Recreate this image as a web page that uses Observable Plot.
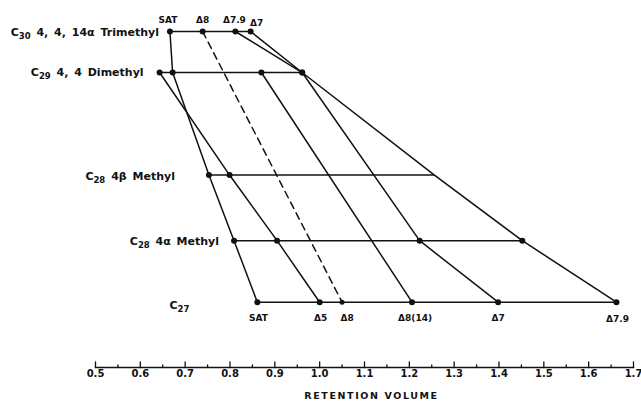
<!DOCTYPE html>
<html><head><meta charset="utf-8">
<script src="https://cdn.jsdelivr.net/npm/d3@7"></script>
<script src="https://cdn.jsdelivr.net/npm/@observablehq/plot@0.6"></script>
<style>body{margin:0;background:#fff}</style>
</head><body><div id="chart"></div>
<script>
// Rows (sterol nuclei), top to bottom, and their position on the hidden vertical scale
const rows = ["C₃₀ 4, 4, 14α Trimethyl", "C₂₉ 4, 4 Dimethyl", "C₂₈ 4β Methyl", "C₂₈ 4α Methyl", "C₂₇"];
const rowLevel = [0, 1.0, 3.5, 5.1, 6.6];

// Unsaturation series and their retention volumes per row (null = absent)
const series = ["SAT", "Δ5", "Δ8", "Δ8(14)", "Δ7", "Δ7.9"];
const satValues   = [0.666, 0.672, 0.753, 0.809, 0.861];
const d5Values    = [null,  0.643, 0.799, 0.905, 1.000];
const d8Values    = [0.739, null,  null,  null,  1.050];
const d814Values  = [null,  0.870, null,  null,  1.206];
const d7Values    = [0.846, 0.961, null,  1.223, 1.398];
const d79Values   = [0.812, 0.961, 1.256, 1.452, 1.662];
const seriesValues = [satValues, d5Values, d8Values, d814Values, d7Values, d79Values];

// Points drawn without a dot (line intersection only)
const undotted = [["Δ7.9", 2]];

// Axis ticks
const xTicks = [0.5, 0.6, 0.7, 0.8, 0.9, 1.0, 1.1, 1.2, 1.3, 1.4, 1.5, 1.6, 1.7];
const xTickLabels = ["0.5", "0.6", "0.7", "0.8", "0.9", "1.0", "1.1", "1.2", "1.3", "1.4", "1.5", "1.6", "1.7"];
const xMinorTicks = [0.55, 0.65, 0.75, 0.85, 0.95, 1.05, 1.15, 1.25, 1.35, 1.45, 1.55, 1.65];

// Build table
const table = [];
series.forEach((s, si) => {
  seriesValues[si].forEach((v, ri) => {
    if (v != null) table.push({series: s, row: ri, level: rowLevel[ri], v});
  });
});
const spans = rows.map((name, ri) => {
  const vs = table.filter(d => d.row === ri).map(d => d.v);
  return {name, row: ri, level: rowLevel[ri], min: d3.min(vs), max: d3.max(vs)};
});
const isUndotted = d => undotted.some(([s, r]) => s === d.series && r === d.row);
const dots = table.filter(d => !isUndotted(d));
const topLabels = table.filter(d => d.row === 0);
const bottomLabels = table.filter(d => d.row === rows.length - 1);

const tickUp = {draw(ctx, l) { ctx.moveTo(0, 0); ctx.lineTo(0, -l); }};
const ink = "#111";
const font = "DejaVu Sans";
const sw = 1.5;

// label offsets (pixels)
const rowDx = [-11, -16, -34, -15, -68];
const rowDy = [1, 0, 1, 1, 3];
const topDx = {"SAT": -2, "Δ8": 0, "Δ7.9": -1, "Δ7": 6};
const topDy = {"SAT": -11, "Δ8": -11, "Δ7.9": -11, "Δ7": -8.5};
const botDx = {"SAT": 1, "Δ5": 1, "Δ8": 5, "Δ8(14)": 3, "Δ7": 0, "Δ7.9": 1};
const botDy = {"SAT": 15.5, "Δ5": 15.5, "Δ8": 15.5, "Δ8(14)": 15.5, "Δ7": 15.5, "Δ7.9": 17};

const chart = Plot.plot({
  width: 641,
  height: 405,
  marginLeft: 95,
  marginRight: 8,
  marginTop: 0,
  marginBottom: 38,
  style: {fontFamily: font, background: "#fff", color: ink},
  x: {domain: [0.5, 1.7]},
  y: {domain: [0, 6.6], range: [31, 301.7], axis: null},
  marks: [
    Plot.frame({anchor: "bottom", stroke: ink, strokeWidth: 1.4}),
    Plot.vector(xTicks, {x: d => d, frameAnchor: "bottom", length: 5.5, rotate: 0, anchor: "start", shape: tickUp, stroke: ink, strokeWidth: 1.3}),
    Plot.vector(xMinorTicks, {x: d => d, frameAnchor: "bottom", length: 2.5, rotate: 0, anchor: "start", shape: tickUp, stroke: ink, strokeWidth: 1.3}),
    Plot.axisX({ticks: xTicks, tickFormat: (d, i) => xTickLabels[i], tickSize: 0, tickPadding: 2, label: null, fontSize: 10, fontWeight: "bold", fill: ink}),
    Plot.text(["RETENTION VOLUME"], {frameAnchor: "bottom", dx: 7, dy: 31, fontSize: 9.5, fontWeight: "bold", fill: ink, className: "xtitle"}),
    Plot.ruleY(spans, {y: "level", x1: "min", x2: "max", stroke: ink, strokeWidth: sw}),
    Plot.line(table.filter(d => d.series !== "Δ8"), {x: "v", y: "level", z: "series", stroke: ink, strokeWidth: sw}),
    Plot.line(table.filter(d => d.series === "Δ8"), {x: "v", y: "level", z: "series", stroke: ink, strokeWidth: sw, strokeDasharray: "7,5"}),
    Plot.dot(dots, {x: "v", y: "level", r: d => (d.series === "Δ8" && d.row === 4 ? 2.1 : 3), fill: ink, stroke: null}),
    ...topLabels.map(d => Plot.text([d], {x: "v", y: "level", text: "series", dx: topDx[d.series], dy: topDy[d.series], fontSize: 9, fontWeight: "bold", fill: ink})),
    ...bottomLabels.map(d => Plot.text([d], {x: "v", y: "level", text: "series", dx: botDx[d.series], dy: botDy[d.series], fontSize: 9, fontWeight: "bold", fill: ink})),
    ...spans.map(s => Plot.text([s], {x: "min", y: "level", text: "name", textAnchor: "end", dx: rowDx[s.row], dy: rowDy[s.row], fontSize: 11, fontWeight: "bold", fill: ink, className: "rowlabel"}))
  ]
});
document.getElementById("chart").appendChild(chart);
d3.select(chart).selectAll(".xtitle text").style("letter-spacing", "1.6px");
// render subscript digits of the row labels as real lowered tspans
const subMap = {"₀":"0","₁":"1","₂":"2","₃":"3","₄":"4","₅":"5","₆":"6","₇":"7","₈":"8","₉":"9"};
d3.select(chart).selectAll(".rowlabel text").each(function() {
  const t = this.textContent;
  const m = t.match(/^(C)([₀-₉]+)(.*)$/);
  if (!m) return;
  const el = d3.select(this);
  el.text(null).style("word-spacing", "2px");
  el.append("tspan").text(m[1]);
  el.append("tspan").attr("dy", 3).style("font-size", "8.5px").text([...m[2]].map(c => subMap[c]).join(""));
  if (m[3]) el.append("tspan").attr("dy", -3).text(m[3]);
});
</script>
</body></html>
